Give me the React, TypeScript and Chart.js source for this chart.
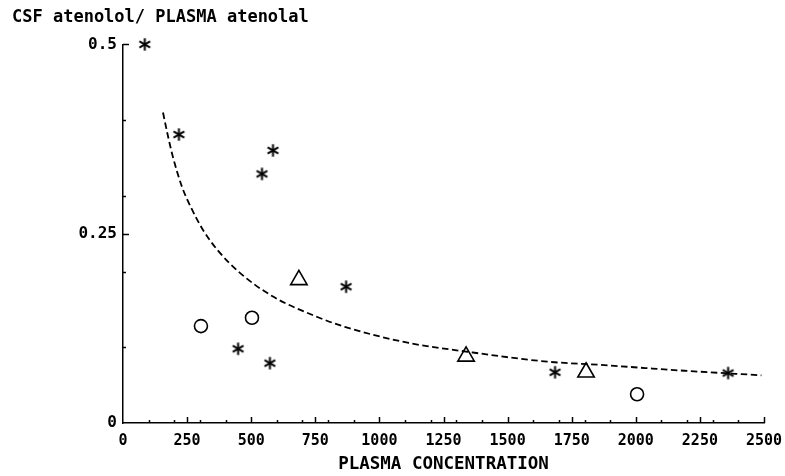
import React, { useEffect, useRef } from "react";
import { Chart, registerables } from "chart.js";

Chart.register(...registerables);

// ---- data ----
const starX = [85, 218, 585, 542, 870, 449, 573, 1685, 2360];
const starY = [0.5, 0.381, 0.36, 0.329, 0.18, 0.098, 0.079, 0.067, 0.066];

const circleX = [304, 503, 2005];
const circleY = [0.128, 0.139, 0.038];

const triangleX = [686, 1338, 1806];
const triangleY = [0.189, 0.088, 0.067];

const curveX = [156, 176, 195, 230, 269, 312, 367, 457, 585, 758, 865, 1110, 1345, 1655, 1850, 2190, 2490];
const curveY = [0.41, 0.378, 0.351, 0.312, 0.282, 0.255, 0.229, 0.198, 0.167, 0.14, 0.127, 0.106, 0.094, 0.081, 0.077, 0.069, 0.063];

const xLabelTicks = [0, 250, 500, 750, 1000, 1250, 1500, 1750, 2000, 2250, 2500];
const xMinorTicks = [100, 200, 300, 400, 600, 700, 800, 900, 1100, 1200, 1300, 1400, 1600, 1700, 1800, 1900, 2100, 2200, 2300, 2400];
const yLabelTicks = [0, 0.25, 0.5];
const yMinorTicks = [0.1, 0.2, 0.3, 0.4];

const yTitle = "CSF atenolol/ PLASMA atenolal";
const xTitle = "PLASMA CONCENTRATION";

const FONT = "'DejaVu Sans Mono', monospace";

function zip(xs: number[], ys: number[]) {
  return xs.map((x, i) => ({ x, y: ys[i] }));
}

function makeAsterisk(): HTMLCanvasElement {
  const c = document.createElement("canvas");
  c.width = 15;
  c.height = 15;
  const g = c.getContext("2d")!;
  g.strokeStyle = "#000";
  g.lineWidth = 2;
  g.lineCap = "butt";
  const cx = 7.5, cy = 7.5, r = 6.2;
  for (const deg of [90, 30, 150]) {
    const a = (deg * Math.PI) / 180;
    g.beginPath();
    g.moveTo(cx - Math.cos(a) * r, cy - Math.sin(a) * r);
    g.lineTo(cx + Math.cos(a) * r, cy + Math.sin(a) * r);
    g.stroke();
  }
  return c;
}

const innerTicks = {
  id: "innerTicks",
  afterDraw(chart: any) {
    const { ctx, chartArea, scales } = chart;
    const xs = scales.x, ys = scales.y;
    ctx.save();
    ctx.strokeStyle = "#000";
    ctx.lineWidth = 1.5;
    const drawX = (v: number, len: number) => {
      const px = Math.round(xs.getPixelForValue(v)) + 0.5;
      ctx.beginPath();
      ctx.moveTo(px, chartArea.bottom);
      ctx.lineTo(px, chartArea.bottom - len);
      ctx.stroke();
    };
    const drawY = (v: number, len: number) => {
      const py = Math.round(ys.getPixelForValue(v)) + 0.5;
      ctx.beginPath();
      ctx.moveTo(chartArea.left, py);
      ctx.lineTo(chartArea.left + len, py);
      ctx.stroke();
    };
    xMinorTicks.forEach((v) => drawX(v, 3));
    xLabelTicks.forEach((v) => v > 0 && drawX(v, 6));
    yMinorTicks.forEach((v) => drawY(v, 3));
    yLabelTicks.forEach((v) => v > 0 && drawY(v, 6));
    ctx.restore();
  },
};

export default function App() {
  const ref = useRef<HTMLCanvasElement | null>(null);

  useEffect(() => {
    if (!ref.current) return;
    const star = makeAsterisk();
    const chart = new Chart(ref.current, {
      type: "scatter",
      data: {
        datasets: [
          {
            type: "line",
            data: zip(curveX, curveY),
            borderColor: "#000",
            borderWidth: 1.8,
            borderDash: [6.5, 3.5],
            pointRadius: 0,
            fill: false,
            cubicInterpolationMode: "monotone",
            clip: false as any,
          } as any,
          {
            data: zip(starX, starY),
            pointStyle: star as any,
            pointRadius: 7,
            clip: false as any,
          },
          {
            data: zip(circleX, circleY),
            pointStyle: "circle",
            pointRadius: 6.5,
            borderColor: "#000",
            borderWidth: 1.6,
            backgroundColor: "rgba(0,0,0,0)",
            clip: false as any,
          },
          {
            data: zip(triangleX, triangleY),
            pointStyle: "triangle",
            pointRadius: 9.5,
            borderColor: "#000",
            borderWidth: 1.6,
            backgroundColor: "rgba(0,0,0,0)",
            clip: false as any,
          },
        ],
      },
      options: {
        animation: false,
        responsive: false,
        devicePixelRatio: 1,
        layout: { padding: { left: 12, right: 21, top: 0, bottom: 0 } },
        plugins: {
          legend: { display: false },
          tooltip: { enabled: false },
          title: {
            display: true,
            text: yTitle,
            align: "start",
            color: "#000",
            font: { family: FONT, size: 17, weight: "bold" },
            padding: { top: 7, bottom: 17 },
          },
        },
        scales: {
          x: {
            type: "linear",
            min: 0,
            max: 2500,
            grid: { display: false, drawTicks: false },
            border: { display: true, color: "#000", width: 1.5 },
            afterBuildTicks: (s: any) => {
              s.ticks = xLabelTicks.map((v) => ({ value: v }));
            },
            afterFit: (s: any) => {
              s.height = 53;
              s.paddingLeft = 0;
              s.paddingRight = 0;
            },
            ticks: {
              color: "#000",
              padding: 9,
              maxRotation: 0,
              autoSkip: false,
              font: { family: FONT, size: 15, weight: "bold" },
              callback: (v: any) => String(v),
            },
            title: {
              display: true,
              text: xTitle,
              color: "#000",
              font: { family: FONT, size: 17.5, weight: "bold" },
              padding: { top: 0, bottom: 1 },
            },
          },
          y: {
            type: "linear",
            min: 0,
            max: 0.5,
            grid: { display: false, drawTicks: false },
            border: { display: true, color: "#000", width: 1.5 },
            afterBuildTicks: (s: any) => {
              s.ticks = yLabelTicks.map((v) => ({ value: v }));
            },
            afterFit: (s: any) => {
              s.width = 111;
              s.paddingTop = 0;
              s.paddingBottom = 0;
            },
            ticks: {
              color: "#000",
              padding: 6,
              autoSkip: false,
              font: { family: FONT, size: 16, weight: "bold" },
              callback: (v: any) => String(v),
            },
          },
        },
      },
      plugins: [innerTicks],
    });
    return () => chart.destroy();
  }, []);

  return (
    <div style={{ position: "fixed", left: 0, top: 0, width: 785, height: 476, background: "#fff" }}>
      <canvas ref={ref} width={785} height={476} style={{ width: 785, height: 476, display: "block" }} />
    </div>
  );
}
